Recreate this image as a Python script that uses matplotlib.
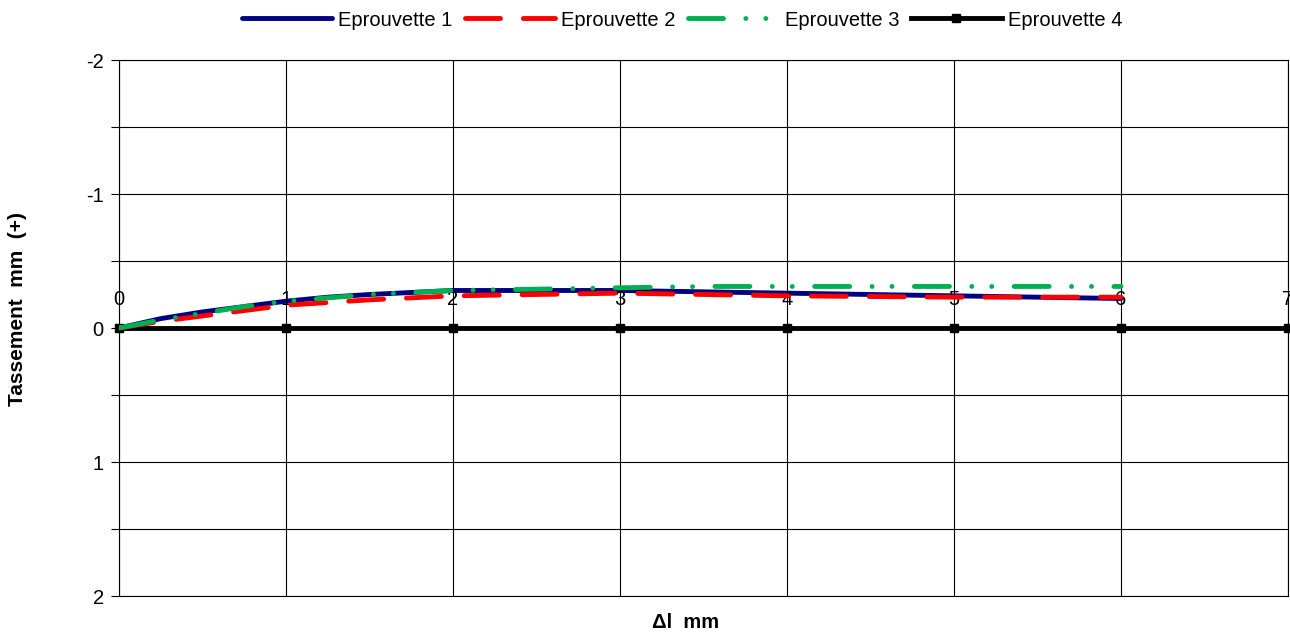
import matplotlib
matplotlib.use('Agg')
import matplotlib.pyplot as plt
from matplotlib.ticker import MultipleLocator

# Data (x = delta l mm, y = tassement mm)
x_ep1 = [0, 0.25, 0.5, 0.75, 1.0, 1.25, 1.5, 2.0, 2.5, 3.0, 3.5, 4.0, 4.5, 5.0, 5.5, 6.0]
y_ep1 = [0, -0.07, -0.12, -0.16, -0.20, -0.23, -0.25, -0.28, -0.28, -0.28, -0.27, -0.26, -0.25, -0.24, -0.23, -0.22]

x_ep2 = [0, 0.25, 0.5, 0.75, 1.0, 1.5, 2.0, 2.5, 3.0, 3.5, 4.0, 4.5, 5.0, 5.5, 6.0]
y_ep2 = [0, -0.05, -0.09, -0.13, -0.17, -0.21, -0.24, -0.25, -0.26, -0.25, -0.24, -0.235, -0.23, -0.23, -0.23]

x_ep3 = [0, 0.25, 0.5, 0.75, 1.0, 1.5, 2.0, 2.5, 3.0, 3.5, 4.0, 4.5, 5.0, 5.5, 6.0]
y_ep3 = [0, -0.06, -0.11, -0.16, -0.20, -0.25, -0.28, -0.29, -0.30, -0.31, -0.31, -0.31, -0.31, -0.31, -0.31]

x_ep4 = [0, 1, 2, 3, 4, 5, 6, 7]
y_ep4 = [0, 0, 0, 0, 0, 0, 0, 0]

labels = ['Eprouvette 1', 'Eprouvette 2', 'Eprouvette 3', 'Eprouvette 4']
x_ticks = [0, 1, 2, 3, 4, 5, 6, 7]

plt.rcParams['font.family'] = ['Liberation Sans', 'DejaVu Sans']
plt.rcParams['axes.unicode_minus'] = False

fig = plt.figure(figsize=(12.9, 6.37), dpi=100)
ax = fig.add_axes([119 / 1290, 1 - 596 / 637, 1169 / 1290, 536 / 637])

ax.plot(x_ep4, y_ep4, color='black', lw=3.5, marker='s', markersize=6,
        label=labels[3], zorder=2, clip_on=False)
ax.plot(x_ep1, y_ep1, color='#000080', lw=3.5, label=labels[0], zorder=3,
        solid_capstyle='round')
ax.plot(x_ep2, y_ep2, color='#ff0000', lw=3.5, linestyle=(0, (7.2, 4.7)),
        dash_capstyle='round', label=labels[1], zorder=4)
ax.plot(x_ep3, y_ep3, color='#00b050', lw=3.5,
        linestyle=(0, (7.2, 4.6, 0.01, 4.1, 0.01, 4.6)),
        dash_capstyle='round', label=labels[2], zorder=5)

ax.set_xlim(0, 7)
ax.set_ylim(2, -2)
ax.yaxis.set_major_locator(MultipleLocator(1))
ax.yaxis.set_minor_locator(MultipleLocator(0.5))
ax.xaxis.set_major_locator(MultipleLocator(1))
ax.grid(True, which='both', color='black', lw=0.8)
ax.tick_params(axis='y', which='both', direction='out', length=6, width=0.8,
               labelsize=14.5, pad=5)
ax.tick_params(axis='x', which='both', length=0, labelbottom=False)
for spine in ax.spines.values():
    spine.set_color('black')
    spine.set_linewidth(0.8)

# x tick labels sit just above the zero line
for xt in x_ticks:
    ax.annotate(str(xt), xy=(xt, 0), xytext=(0, 14), textcoords='offset points',
                ha='center', va='bottom', fontsize=14.5, annotation_clip=False)

fig.text(18 / 1290, 1 - 309 / 637, 'Tassement  mm  (+)', fontsize=15, fontweight='bold',
         rotation=90, ha='center', va='center')
fig.text(686 / 1290, 1 - 623 / 637, '\u0394l  mm', fontsize=14.5, fontweight='bold',
         ha='center', va='center')

handles, labs = ax.get_legend_handles_labels()
order = [labs.index(l) for l in labels]
ax.legend([handles[i] for i in order], [labs[i] for i in order],
          loc='center', bbox_to_anchor=(682 / 1290, 1 - 20 / 637),
          bbox_transform=fig.transFigure, ncol=4, frameon=False,
          fontsize=14.5, handlelength=4.5, handletextpad=0.3, columnspacing=0.6)

fig.savefig('out.png', dpi=100)
